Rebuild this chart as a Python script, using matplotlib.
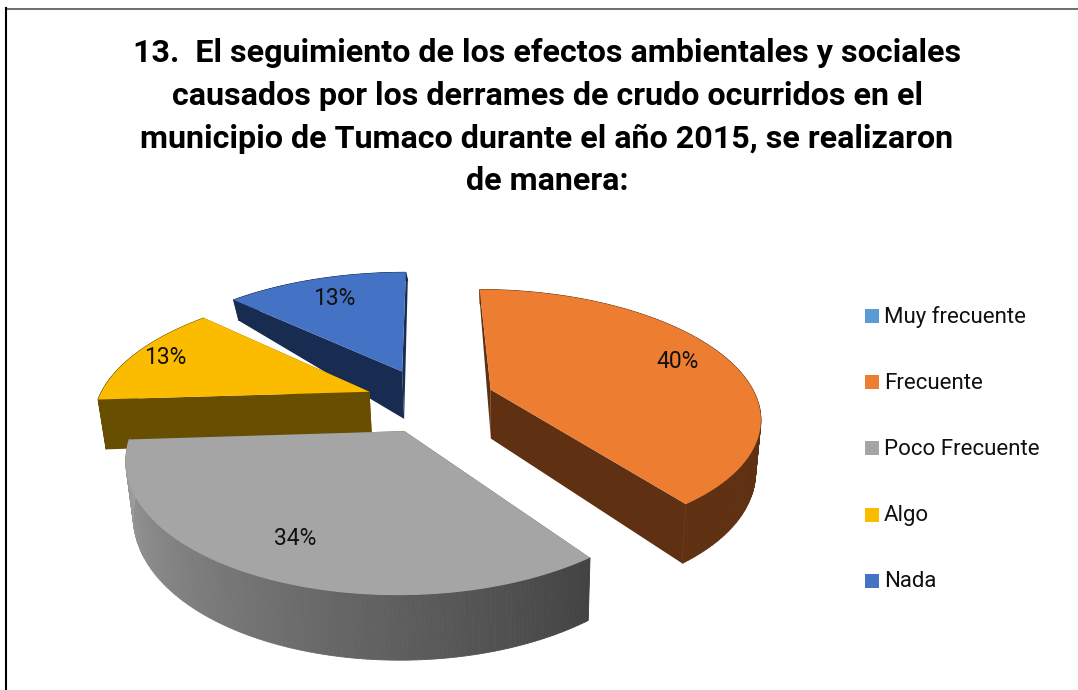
# plot.py - exploded 3D-looking pie chart, encuesta Tumaco

import numpy as np
import matplotlib
matplotlib.use("Agg")
import matplotlib.pyplot as plt
from matplotlib.colors import to_rgb

# DATA
title_lines = [
    "13.  El seguimiento de los efectos ambientales y sociales",
    "causados por los derrames de crudo ocurridos en el",
    "municipio de Tumaco durante el año 2015, se realizaron",
    "de manera:",
]
categories = ["Muy frecuente", "Frecuente", "Poco Frecuente", "Algo", "Nada"]
values = [0, 40, 34, 13, 13]

# STYLE
top_colors = ["#5b9bd5", "#ed7d31", "#a5a5a5", "#fbbc00", "#4472c4"]
wall_colors = ["#25405c", "#5f3012", "#555555", "#674e00", "#182b50"]
explode = [0.0, 0.27, 0.22, 0.22, 0.22]
nudge = [(0, 0), (-3, 0), (6, 5), (0, 1), (0, -4)]   # pixels, small corrections per slice
scale = [1.0, 0.98, 0.96, 1.0, 1.02]
label_r = [0.7, 0.8, 0.78, 0.87, 0.76]
draw_order = [4, 3, 1, 2]

CX, CY = 425, 400   # pie centre in pixels
RX, RY = 272, 126   # radii of the top ellipse
PERSP = 0.2
START = 0.0         # degrees, clockwise from 12 o'clock
X_VANISH = 500      # side walls lean towards this x

plt.rcParams["font.family"] = ["Roboto", "Liberation Sans", "DejaVu Sans"]


def project(u, v):
    # unit disk (v pointing away from viewer) to pixels, with some perspective
    w = 1 + PERSP * v
    return CX + RX * u / w, CY - RY * v / w


def depth(v):
    # the side wall gets taller towards the viewer
    return 50 - 13 * v - 25 * max(0.0, v - 0.2)


def lean(x):
    # foot of a wall is a bit closer to the middle than its top
    return X_VANISH + (x - X_VANISH) * 0.98


def shade(color, k):
    return tuple(c * k for c in to_rgb(color))


fig = plt.figure(figsize=(10.78, 6.90), dpi=100)
ax = fig.add_axes([0, 0, 1, 1])
ax.set_xlim(0, 1078)
ax.set_ylim(690, 0)
ax.axis("off")

# frame of the pasted chart, only top and left are visible
ax.plot([6, 1078], [8.5, 8.5], color="#555555", lw=1.2, zorder=1)
ax.plot([6, 6], [8, 690], color="black", lw=1.5, zorder=1)

# title
for i, line in enumerate(title_lines):
    ax.text(547, 53 + i * 42.8, line, ha="center", va="center", fontsize=23.2,
            fontweight="bold", color="black", zorder=10)

# slice angles from the values
total = sum(values)
edges = START + np.cumsum([0] + values) * 360.0 / total

z = 2
for idx in draw_order:
    a0, a1 = np.radians(edges[idx]), np.radians(edges[idx + 1])
    mid = (a0 + a1) / 2
    ou, ov = explode[idx] * np.sin(mid), explode[idx] * np.cos(mid)
    nx, ny = nudge[idx]
    s = scale[idx]

    th = np.linspace(a0, a1, 160)
    ru = ou + s * np.sin(th)
    rv = ov + s * np.cos(th)
    rx, ry = project(ru, rv)
    rx, ry = rx + nx, ry + ny
    px, py = project(ou, ov)
    px, py = px + nx, py + ny

    # flat walls, from the apex down to each edge of the slice
    for e in [0, -1]:
        xs = [px, rx[e], lean(rx[e]), lean(px)]
        ys = [py, ry[e], ry[e] + depth(rv[e]), py + depth(ov)]
        ax.fill(xs, ys, color=wall_colors[idx], lw=0, zorder=z)

    # outer wall, split in small strips for the gradient on the grey slice
    for j in range(len(th) - 1):
        if idx == 2:
            t = j / (len(th) - 2)
            col = shade("#a0a0a0", 0.42 + 0.58 * t)
        else:
            col = wall_colors[idx]
        xs = [rx[j], rx[j + 1], lean(rx[j + 1]), lean(rx[j])]
        ys = [ry[j], ry[j + 1], ry[j + 1] + depth(rv[j + 1]), ry[j] + depth(rv[j])]
        ax.fill(xs, ys, color=col, lw=0.6, edgecolor=col, zorder=z)

    # top face
    ax.fill(np.r_[px, rx], np.r_[py, ry], color=top_colors[idx], lw=0, zorder=z + 0.5)

    # percentage label
    lu, lv = ou + s * label_r[idx] * np.sin(mid), ov + s * label_r[idx] * np.cos(mid)
    lx, ly = project(lu, lv)
    ax.text(lx + nx, ly + ny, f"{values[idx]}%", ha="center", va="center", fontsize=16.5,
            color="#111111", zorder=z + 0.8)
    z += 1

# legend
for i, (cat, col) in enumerate(zip(categories, top_colors)):
    y = 316 + i * 66.2
    ax.fill([865, 879, 879, 865], [y - 7, y - 7, y + 7, y + 7], color=col, lw=0, zorder=10)
    ax.text(884, y + 1, cat, ha="left", va="center", fontsize=16, color="#111111", zorder=10)

fig.savefig("out.png", dpi=100)
plt.close(fig)
